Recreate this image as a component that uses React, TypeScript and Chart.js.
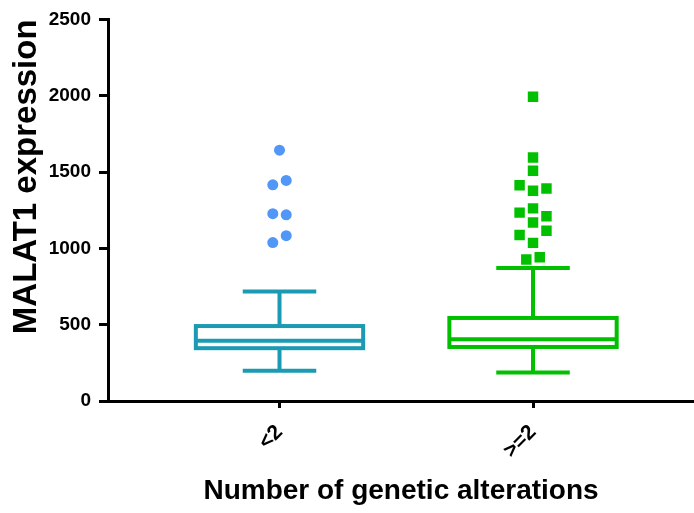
import React, { useEffect, useRef } from "react";
import { Chart, registerables } from "chart.js";

Chart.register(...registerables);

// ---- data ----
const categories = ["<2", ">=2"];
const whiskerLow = [198, 187];
const q1 = [346, 354];
const median = [394, 405];
const q3 = [491, 544];
const whiskerHigh = [718, 872];

const outliersLow = [1643, 1416, 1445, 1227, 1220, 1083, 1038];
const outliersLowColumn = [0, -0.5, 0.5, -0.5, 0.5, 0.5, -0.5];
const outliersHigh = [1993, 1595, 1508, 1414, 1377, 1392, 1234, 1262, 1210, 1170, 1116, 1088, 1036, 927, 942];
const outliersHighColumn = [0, 0, 0, -1, 0, 1, -1, 0, 1, 0, 1, -1, 0, -0.5, 0.5];

const yTicks = [0, 500, 1000, 1500, 2000, 2500];

// ---- style ----
const FONT = "'Liberation Sans', Arial, Helvetica, sans-serif";
const boxColors = ["#1a9bb3", "#00c000"];
const pointColors = ["#5197f7", "#00c000"];
const BOX_WIDTH = 0.66; // in category units
const CAP_WIDTH = 0.29;
const COLUMN_STEP = 0.053;

const boxPlugin = {
  id: "boxes",
  beforeDatasetsDraw(chart: any) {
    const { ctx, scales } = chart;
    const x = scales.x;
    const y = scales.y;
    const unit = x.getPixelForValue(1) - x.getPixelForValue(0);
    ctx.save();
    ctx.lineWidth = 4;
    ctx.lineCap = "butt";
    categories.forEach((_, i) => {
      const cx = x.getPixelForValue(i);
      const hw = (BOX_WIDTH * unit) / 2;
      const cw = (CAP_WIDTH * unit) / 2;
      const yq1 = y.getPixelForValue(q1[i]);
      const yq3 = y.getPixelForValue(q3[i]);
      const ym = y.getPixelForValue(median[i]);
      const yl = y.getPixelForValue(whiskerLow[i]);
      const yh = y.getPixelForValue(whiskerHigh[i]);
      ctx.strokeStyle = boxColors[i];
      ctx.strokeRect(cx - hw, yq3, 2 * hw, yq1 - yq3);
      ctx.beginPath();
      ctx.moveTo(cx - hw, ym);
      ctx.lineTo(cx + hw, ym);
      ctx.moveTo(cx, yq3);
      ctx.lineTo(cx, yh);
      ctx.moveTo(cx - cw, yh);
      ctx.lineTo(cx + cw, yh);
      ctx.moveTo(cx, yq1);
      ctx.lineTo(cx, yl);
      ctx.moveTo(cx - cw, yl);
      ctx.lineTo(cx + cw, yl);
      ctx.stroke();
    });
    ctx.restore();
  },
};

export default function App() {
  const ref = useRef<HTMLCanvasElement | null>(null);

  useEffect(() => {
    if (!ref.current) return;
    const chart = new Chart(ref.current, {
      type: "scatter",
      data: {
        datasets: [
          {
            data: outliersLow.map((v, k) => ({ x: 0 + outliersLowColumn[k] * COLUMN_STEP, y: v })),
            pointStyle: "circle",
            pointRadius: 5.5,
            backgroundColor: pointColors[0],
            borderWidth: 0,
          },
          {
            data: outliersHigh.map((v, k) => ({ x: 1 + outliersHighColumn[k] * COLUMN_STEP, y: v })),
            pointStyle: "rect",
            pointRadius: 7.4,
            backgroundColor: pointColors[1],
            borderWidth: 0,
          },
        ],
      },
      options: {
        animation: false,
        responsive: true,
        maintainAspectRatio: false,
        events: [],
        layout: { autoPadding: false, padding: { top: 18, right: 0, bottom: 1, left: 0 } },
        plugins: { legend: { display: false }, tooltip: { enabled: false } },
        scales: {
          x: {
            type: "linear",
            bounds: "data",
            min: -0.6765,
            max: 1.635,
            afterBuildTicks: (s: any) => {
              s.ticks = categories.map((_, i) => ({ value: i }));
            },
            afterFit: (s: any) => {
              s.height = 111;
              s.paddingLeft = 0;
              s.paddingRight = 0;
            },
            ticks: {
              callback: (v: any) => categories[v as number] ?? "",
              minRotation: 45,
              maxRotation: 45,
              autoSkip: false,
              padding: 12,
              color: "#000",
              font: { family: FONT, size: 21, weight: "bold" },
            },
            grid: {
              display: true,
              drawOnChartArea: false,
              drawTicks: true,
              tickLength: 7,
              tickWidth: 3,
              tickColor: "#000",
            },
            border: { display: true, color: "#000", width: 3 },
            title: {
              display: true,
              text: "Number of genetic alterations",
              color: "#000",
              font: { family: FONT, size: 28, weight: "bold" },
              padding: { top: 4, bottom: 4 },
            },
          },
          y: {
            type: "linear",
            min: 0,
            max: 2500,
            afterBuildTicks: (s: any) => {
              s.ticks = yTicks.map((v) => ({ value: v }));
            },
            afterFit: (s: any) => {
              s.width = 108;
            },
            ticks: {
              callback: (v: any) => String(v),
              padding: 8,
              color: "#000",
              font: { family: FONT, size: 19, weight: "bold" },
            },
            grid: {
              display: true,
              drawOnChartArea: false,
              drawTicks: true,
              tickLength: 9,
              tickWidth: 3,
              tickColor: "#000",
            },
            border: { display: true, color: "#000", width: 3 },
            title: {
              display: true,
              text: "MALAT1 expression",
              align: "end",
              color: "#000",
              font: { family: FONT, size: 33, weight: "bold" },
              padding: { top: 7, bottom: 0 },
            },
          },
        },
      },
      plugins: [boxPlugin],
    } as any);
    return () => chart.destroy();
  }, []);

  return (
    <div style={{ position: "fixed", left: 0, top: 0, width: 694, height: 513, background: "#fff" }}>
      <canvas ref={ref} />
    </div>
  );
}
